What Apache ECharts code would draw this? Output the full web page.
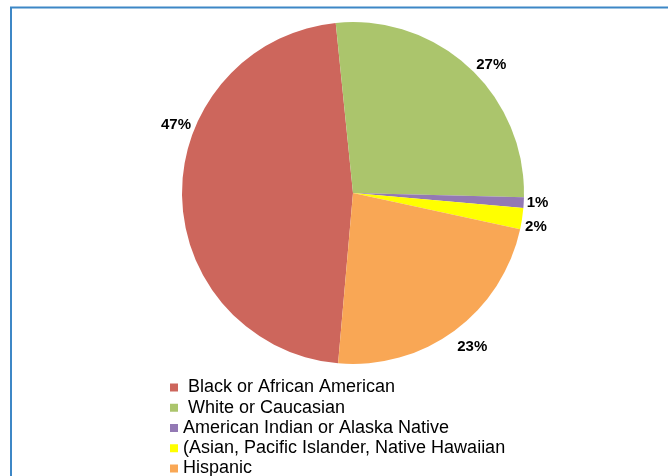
<!DOCTYPE html>
<html>
<head>
<meta charset="utf-8">
<script src="https://cdn.jsdelivr.net/npm/echarts@6/dist/echarts.min.js"></script>
<style>
  html, body { margin: 0; padding: 0; background: #fff; }
</style>
</head>
<body>
<div id="raceChart" style="width:668px;height:476px;"></div>
<script>
// categories and values (percent)
var groups = [' Black or African American', ' White or Caucasian', 'American Indian or Alaska Native', '(Asian, Pacific Islander, Native Hawaiian', 'Hispanic'];
var shares = [47, 27, 1, 2, 23];
var colors = ['#cd665c', '#abc56c', '#9379b4', '#ffff00', '#f9a755'];

var myChart = echarts.init(document.getElementById('raceChart'));

var pieData = [];
for (var i = 0; i < groups.length; i++) {
  pieData.push({ name: groups[i], value: shares[i], itemStyle: { color: colors[i] } });
}

// nudges for the labels that excel did not put at the slice middle
var labelShift = { 0: [17, -69], 3: [0, 7], 4: [-4, 14] };

var option = {
  animation: false,
  backgroundColor: '#fff',
  graphic: [{
    type: 'polyline',
    shape: { points: [[11, 480], [11, 7.5], [680, 7.5]] },
    style: { stroke: '#3d87c6', lineWidth: 2, fill: null }
  }],
  legend: {
    orient: 'vertical',
    left: 170,
    top: 378.5,
    height: 120,
    padding: 0,
    icon: 'rect',
    itemWidth: 8,
    itemHeight: 8,
    itemGap: 2.25,
    data: groups,
    textStyle: { fontFamily: 'Liberation Sans, Arial', fontSize: 18, lineHeight: 18, color: '#000' }
  },
  series: [{
    type: 'pie',
    center: [353, 193],
    radius: 171,
    startAngle: 265,
    clockwise: true,
    data: pieData,
    label: {
      show: true,
      position: 'outside',
      formatter: '{c}%',
      fontFamily: 'Liberation Sans, Arial',
      fontWeight: 'bold',
      fontSize: 15,
      color: '#000'
    },
    labelLine: { show: false, length: 3, length2: 0 },
    labelLayout: function (params) {
      var s = labelShift[params.dataIndex];
      if (s) {
        return { dx: s[0], dy: s[1] };
      }
    },
    emphasis: { disabled: true }
  }]
};

myChart.setOption(option);
</script>
</body>
</html>
